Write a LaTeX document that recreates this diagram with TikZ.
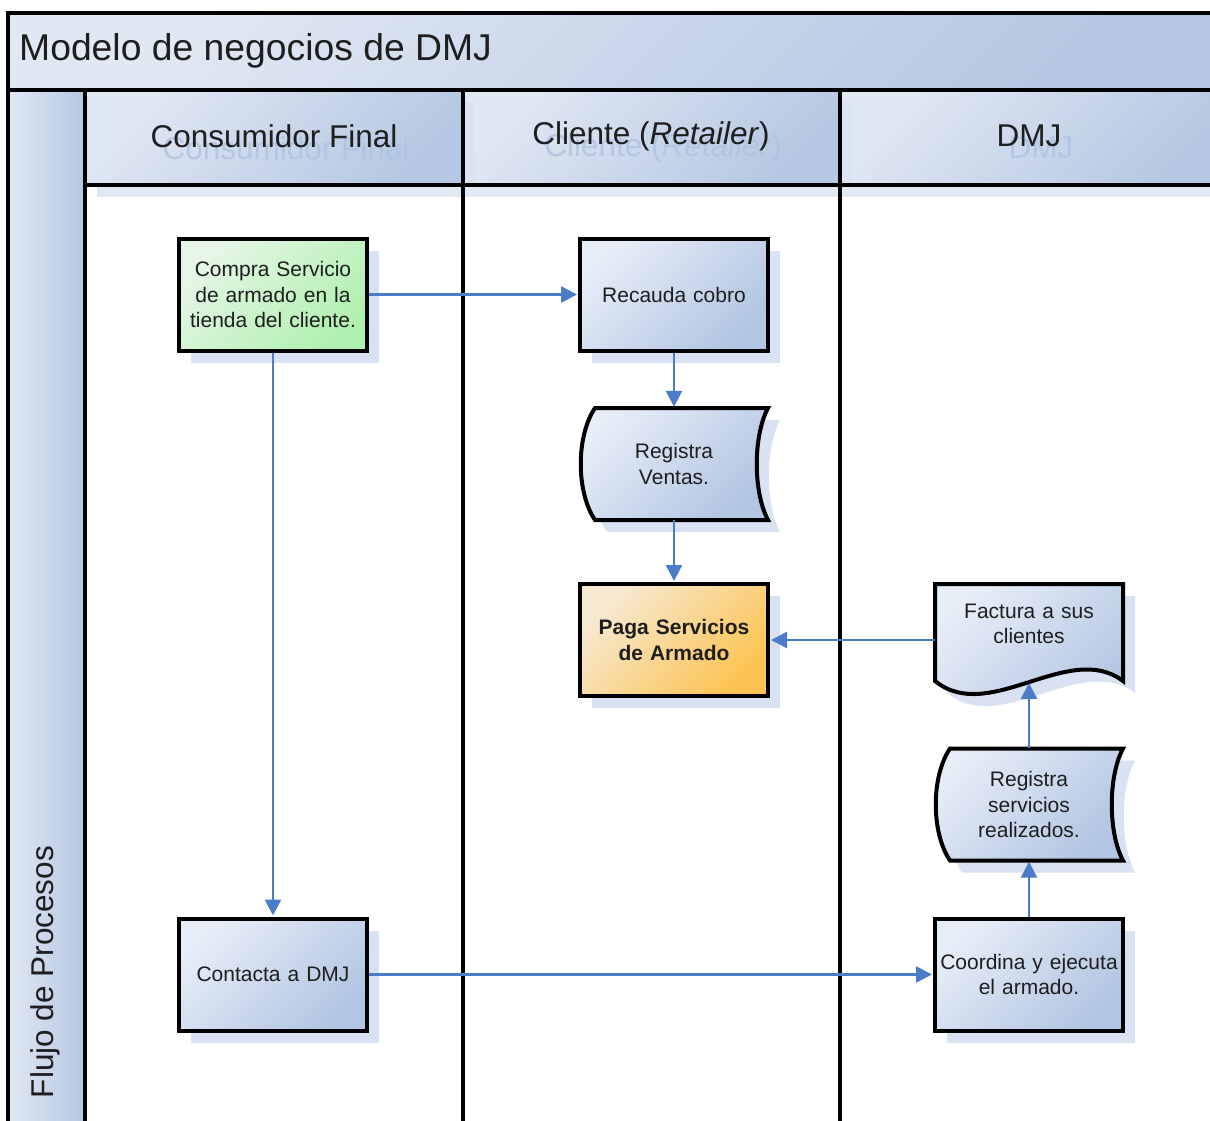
\documentclass[tikz,border=0pt]{standalone}
\usepackage{fontspec}
\setmainfont{Liberation Sans}
\usetikzlibrary{arrows.meta,shadows}

\definecolor{boxlight}{HTML}{E6EDF7}
\definecolor{boxdark}{HTML}{B2C5E2}
\definecolor{shadowc}{HTML}{D8E2F2}
\definecolor{greenlight}{HTML}{E6F6E6}
\definecolor{greendark}{HTML}{B0F0B0}
\definecolor{orangelight}{HTML}{F7E9D2}
\definecolor{orangedark}{HTML}{FCC352}
\definecolor{bandlight}{HTML}{E0E8F3}
\definecolor{banddark}{HTML}{B5C7E2}
\definecolor{ghost}{HTML}{AFC2E2}
\definecolor{flowblue}{HTML}{4A7CC8}
\definecolor{ink}{HTML}{1E1E1E}

\tikzset{
  x=1pt, y=-1pt,
  lane/.style={draw=black, line width=4pt},
  band/.style={top color=bandlight, bottom color=banddark, shading angle=45},
  headtext/.style={text=ink, font=\fontsize{31.5}{36}\selectfont, inner sep=0pt},
  ghosttext/.style={headtext, text=ghost, text opacity=0.8},
  boxtext/.style={text=ink, font=\fontsize{21}{25.5}\selectfont, align=center,
    text width=184pt, inner sep=2pt},
  procbox/.style={boxtext, draw=black, line width=4pt,
    minimum width=188pt, minimum height=112pt,
    top color=boxlight, bottom color=boxdark, shading angle=45,
    drop shadow={shadow xshift=12pt, shadow yshift=-12pt, fill=shadowc, opacity=1}},
  greenbox/.style={procbox, top color=greenlight, bottom color=greendark, shading angle=45},
  orangebox/.style={procbox, top color=orangelight, bottom color=orangedark, shading angle=45,
    font=\fontsize{21}{25.5}\selectfont\bfseries},
  anchorbox/.style={boxtext, minimum width=188pt, minimum height=112pt},
  flow/.style={draw=flowblue, line width=2.6pt, -{Triangle[length=16pt,width=16pt]}, shorten >=1pt},
  % stored data: convex left side, concave right side
  storeddata/.pic={
    \path[fill=shadowc, shift={(12,12)}]
      (-79,-56) -- (94,-56) .. controls (79,-28) and (79,28) .. (94,56)
      -- (-79,56) .. controls (-98,28) and (-98,-28) .. cycle;
    \path[draw=black, line width=4pt, top color=boxlight, bottom color=boxdark, shading angle=45]
      (-79,-56) -- (94,-56) .. controls (79,-28) and (79,28) .. (94,56)
      -- (-79,56) .. controls (-98,28) and (-98,-28) .. cycle;
    \node[anchorbox] (-n) at (0,0) {#1};
  },
  % document: wavy lower edge
  docshape/.pic={
    \path[fill=shadowc, shift={(12,12)}]
      (-94,-56) -- (94,-56) -- (94,41) .. controls (40,0) and (-40,85) .. (-94,41) -- cycle;
    \path[draw=black, line width=4pt, top color=boxlight, bottom color=boxdark, shading angle=45]
      (-94,-56) -- (94,-56) -- (94,41) .. controls (40,0) and (-40,85) .. (-94,41) -- cycle;
    \node[anchorbox] (-n) at (0,0) {};
    \node[boxtext] (-t) at (0,-16) {#1};
    \coordinate (-wave) at (0,42);
  }
}

\begin{document}
\begin{tikzpicture}
\useasboundingbox (0,0) rectangle (1210,1121);
\clip (0,0) rectangle (1210,1121);
\fill[white] (0,0) rectangle (1210,1121);

% pool title band and lane label band
\path[band] (8,13) rectangle (1230,90);
\path[left color=bandlight, right color=banddark] (8,90) rectangle (85,1140);

% lane headers
\path[band] (85,90) rectangle (463,185);
\path[band] (463,90) rectangle (840,185);
\path[band] (840,90) rectangle (1230,185);

% header shadows
\fill[shadowc, fill opacity=0.75] (97,185) rectangle (475,197);
\fill[shadowc, fill opacity=0.75] (463,102) rectangle (475,185);
\fill[shadowc, fill opacity=0.75] (475,185) rectangle (852,197);
\fill[shadowc, fill opacity=0.75] (840,102) rectangle (852,185);
\fill[shadowc, fill opacity=0.75] (852,185) rectangle (1230,197);

% header texts with their shadows
\node[ghosttext] (h1s) at (286,148) {Consumidor Final};
\node[ghosttext] (h2s) at (663,148) {Cliente (\textit{Retailer})};
\node[ghosttext] (h3s) at (1041,148) {DMJ};
\node[headtext] (h1) at (274,136) {Consumidor Final};
\node[headtext] (h2) at (651,136) {Cliente (\textit{Retailer})};
\node[headtext] (h3) at (1029,136) {DMJ};

\node[text=ink, font=\fontsize{37.3}{42}\selectfont, anchor=west, inner sep=0pt] (title) at (19,51) {Modelo de negocios de DMJ};
\node[headtext, rotate=90] (flow) at (45,972) {Flujo de Procesos};

% pool and lane borders
\draw[lane] (8,1140) -- (8,13) -- (1230,13);
\draw[lane] (8,90) -- (1230,90);
\draw[lane] (85,90) -- (85,1140);
\draw[lane] (85,185) -- (1230,185);
\draw[lane] (463,90) -- (463,1140);
\draw[lane] (840,90) -- (840,1140);

% process steps
\node[greenbox] (cs) at (273,294.5) {Compra Servicio\\de armado en la\\tienda del cliente.};
\node[procbox] (rc) at (674,294.5) {Recauda cobro};
\pic (rv) at (674,464) {storeddata={Registra\\Ventas.}};
\node[orangebox] (ps) at (674,640) {Paga Servicios\\de Armado};
\pic (fa) at (1029,640) {docshape={Factura a sus\\clientes}};
\pic (rs) at (1029,804.5) {storeddata={Registra\\servicios\\realizados.}};
\node[procbox] (co) at (1029,974.5) {Coordina y ejecuta\\el armado.};
\node[procbox] (cd) at (273,974.5) {Contacta a DMJ};

% connectors
\draw[flow] (cs) -- (rc);
\draw[flow] (cs) -- (cd);
\draw[flow] (rc) -- (rv-n);
\draw[flow] (rv-n) -- (ps);
\draw[flow] (fa-n) -- (ps);
\draw[flow] (rs-n.north) -- (fa-wave);
\draw[flow] (co) -- (rs-n);
\draw[flow] (cd) -- (co);
\end{tikzpicture}
\end{document}
